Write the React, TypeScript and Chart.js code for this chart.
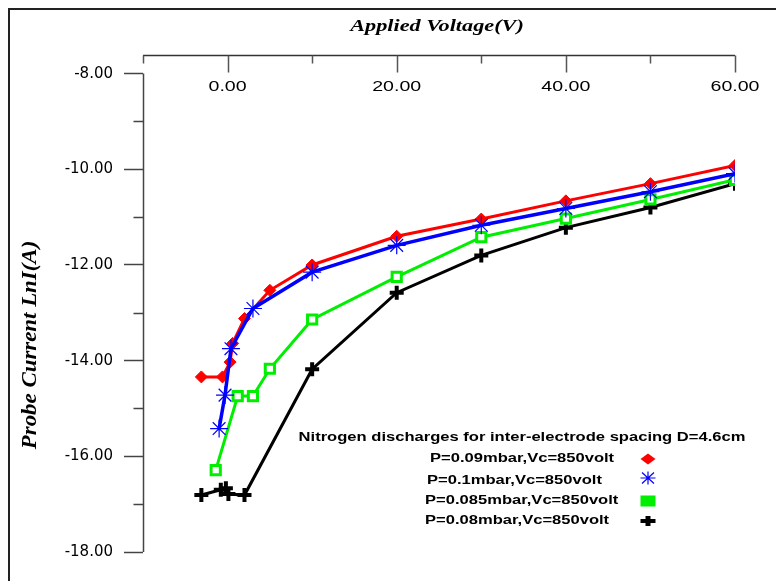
import React, { useEffect, useRef } from "react";
import { Chart, registerables } from "chart.js";

Chart.register(...registerables);

// ---- axes ----
const X_MIN = -10;
const X_MAX = 60;
const Y_MIN = -18;
const Y_FRAME_TOP = -7.611; // value level where the top x axis line sits
const xMajorTicks = [0, 20, 40, 60];
const xMinorTicks = [-10, 10, 30, 50];
const yMajorTicks = [-18, -16, -14, -12, -10, -8];
const yMinorTicks = [-17, -15, -13, -11, -9];

// ---- texts ----
const xTitle = "Applied Voltage(V)";
const yTitle = "Probe Current LnI(A)";
const legendTitle = "Nitrogen discharges for inter-electrode spacing D=4.6cm";
const seriesLabels = [
  "P=0.09mbar,Vc=850volt",
  "P=0.1mbar,Vc=850volt",
  "P=0.085mbar,Vc=850volt",
  "P=0.08mbar,Vc=850volt",
];

// ---- data ----
const redX = [-3.1, -0.6, 0.3, 0.6, 2.0, 5.0, 10, 20, 30, 40, 50, 60];
const redY = [-14.34, -14.34, -14.03, -13.64, -13.12, -12.53, -12.0, -11.4, -11.04, -10.66, -10.3, -9.92];

const blueX = [-1.0, -0.3, 0.4, 3.0, 10, 20, 30, 40, 50, 60];
const blueY = [-15.42, -14.72, -13.75, -12.91, -12.15, -11.59, -11.17, -10.82, -10.47, -10.09];

const greenX = [-1.4, 1.2, 3.0, 5.0, 10, 20, 30, 40, 50, 60];
const greenY = [-16.29, -14.74, -14.74, -14.17, -13.14, -12.25, -11.42, -11.03, -10.63, -10.22];

const blackX = [-3.1, -0.8, -0.2, 0.1, 2.0, 10, 20, 30, 40, 50, 60];
const blackY = [-16.81, -16.7, -16.67, -16.79, -16.81, -14.18, -12.58, -11.8, -11.22, -10.8, -10.3];

const RED = "#ff0000";
const BLUE = "#0000ff";
const GREEN = "#00ee00";
const BLACK = "#000000";

const zip = (xs: number[], ys: number[]) => xs.map((x, i) => ({ x, y: ys[i] }));

function stretchedText(
  ctx: CanvasRenderingContext2D,
  text: string,
  x: number,
  y: number,
  font: string,
  sx: number,
  align: CanvasTextAlign = "center",
  rotate = 0
) {
  ctx.save();
  ctx.font = font;
  ctx.fillStyle = "#000";
  ctx.textBaseline = "middle";
  ctx.textAlign = align;
  ctx.translate(x, y);
  if (rotate) ctx.rotate(rotate);
  ctx.scale(sx, 1);
  ctx.fillText(text, 0, 0);
  ctx.restore();
}

const decor = {
  id: "decor",
  afterDraw(chart: any) {
    const { ctx, chartArea } = chart;
    const xs = chart.scales.x;
    const ys = chart.scales.y;
    ctx.save();

    // outer frame
    ctx.strokeStyle = "#222";
    ctx.lineWidth = 2;
    ctx.beginPath();
    ctx.moveTo(9, 581);
    ctx.lineTo(9, 9);
    ctx.lineTo(776, 9);
    ctx.stroke();

    // top x axis
    const top = Math.round(chartArea.top) + 0.5;
    ctx.strokeStyle = "#333";
    ctx.lineWidth = 1.5;
    ctx.beginPath();
    ctx.moveTo(xs.getPixelForValue(X_MIN), top);
    ctx.lineTo(xs.getPixelForValue(X_MAX), top);
    ctx.stroke();
    ctx.strokeStyle = "#555";
    ctx.beginPath();
    xMajorTicks.forEach((v) => {
      const px = Math.round(xs.getPixelForValue(v)) + 0.5;
      ctx.moveTo(px, top);
      ctx.lineTo(px, top + 17);
    });
    xMinorTicks.forEach((v) => {
      const px = Math.round(xs.getPixelForValue(v)) + 0.5;
      ctx.moveTo(px, top);
      ctx.lineTo(px, top + 8);
    });
    ctx.stroke();
    xMajorTicks.forEach((v) => {
      stretchedText(ctx, v.toFixed(2), xs.getPixelForValue(v), top + 32, "14px 'Liberation Sans'", 1.4);
    });

    // left y axis line (from -8 down to -18)
    const lx = Math.round(chartArea.left) + 0.5;
    ctx.strokeStyle = "#444";
    ctx.lineWidth = 1.5;
    ctx.beginPath();
    ctx.moveTo(lx, ys.getPixelForValue(yMajorTicks[yMajorTicks.length - 1]));
    ctx.lineTo(lx, ys.getPixelForValue(yMajorTicks[0]));
    ctx.stroke();
    ctx.beginPath();
    yMinorTicks.forEach((v) => {
      const py = Math.round(ys.getPixelForValue(v)) + 0.5;
      ctx.moveTo(lx, py);
      ctx.lineTo(lx - 10, py);
    });
    ctx.stroke();

    // titles
    stretchedText(ctx, xTitle, 437, 27, "italic bold 16px 'Liberation Serif'", 1.39);
    stretchedText(ctx, yTitle, 30, 345, "italic bold 22px 'Liberation Serif'", 1.04, "center", -Math.PI / 2);

    // legend
    stretchedText(ctx, legendTitle, 522, 438, "bold 12px 'Liberation Sans'", 1.38);
    const rows = [459, 481, 501, 521];
    const tx = [430, 427, 425, 425];
    seriesLabels.forEach((t, i) => {
      stretchedText(ctx, t, tx[i], rows[i], "bold 12px 'Liberation Sans'", 1.38, "left");
    });
    const mx = 648;
    // red diamond
    ctx.fillStyle = RED;
    ctx.beginPath();
    ctx.moveTo(mx - 7.5, rows[0]);
    ctx.lineTo(mx, rows[0] - 5.5);
    ctx.lineTo(mx + 7.5, rows[0]);
    ctx.lineTo(mx, rows[0] + 5.5);
    ctx.closePath();
    ctx.fill();
    // blue asterisk
    ctx.strokeStyle = BLUE;
    ctx.lineWidth = 1.2;
    ctx.beginPath();
    const by = rows[1] - 3;
    ctx.moveTo(mx - 7.5, by);
    ctx.lineTo(mx + 7.5, by);
    ctx.moveTo(mx, by - 6.5);
    ctx.lineTo(mx, by + 6.5);
    ctx.moveTo(mx - 6, by - 5.5);
    ctx.lineTo(mx + 6, by + 5.5);
    ctx.moveTo(mx - 6, by + 5.5);
    ctx.lineTo(mx + 6, by - 5.5);
    ctx.stroke();
    // green square
    ctx.fillStyle = GREEN;
    ctx.fillRect(mx - 7.5, rows[2] - 5.5, 15, 11);
    // black plus
    ctx.fillStyle = BLACK;
    ctx.fillRect(mx - 7.5, rows[3] - 2, 15, 4);
    ctx.fillRect(mx - 2.5, rows[3] - 5, 5, 10);

    ctx.restore();
  },
};

export default function App() {
  const ref = useRef<HTMLCanvasElement | null>(null);
  useEffect(() => {
    if (!ref.current) return;
    const chart = new Chart(ref.current, {
      type: "line",
      data: {
        datasets: [
          {
            label: seriesLabels[1],
            data: zip(blueX, blueY),
            borderColor: BLUE,
            backgroundColor: BLUE,
            borderWidth: 3.5,
            pointStyle: "star",
            pointRadius: 9,
            pointBorderWidth: 1.2,
            pointBorderColor: BLUE,
          },
          {
            label: seriesLabels[0],
            data: zip(redX, redY),
            borderColor: RED,
            backgroundColor: RED,
            borderWidth: 3,
            pointStyle: "rectRot",
            pointRadius: 6,
            pointBorderWidth: 1,
          },
          {
            label: seriesLabels[2],
            data: zip(greenX, greenY),
            borderColor: GREEN,
            backgroundColor: "#ffffff",
            borderWidth: 3,
            pointStyle: "rect",
            pointRadius: 6.5,
            pointBorderWidth: 3,
            pointBorderColor: GREEN,
            pointBackgroundColor: "#ffffff",
          },
          {
            label: seriesLabels[3],
            data: zip(blackX, blackY),
            borderColor: BLACK,
            backgroundColor: BLACK,
            borderWidth: 3,
            pointStyle: "cross",
            pointRadius: 7,
            pointBorderWidth: 4,
          },
        ],
      },
      options: {
        animation: false,
        responsive: false,
        devicePixelRatio: 1,
        parsing: false as any,
        layout: { padding: { left: 0, top: 55, right: 41, bottom: 29 } },
        plugins: {
          legend: { display: false },
          tooltip: { enabled: false },
          title: { display: false },
        },
        elements: { line: { tension: 0 } },
        scales: {
          x: { type: "linear", min: X_MIN, max: X_MAX, display: false },
          y: {
            type: "linear",
            min: Y_MIN,
            max: Y_FRAME_TOP,
            position: "left",
            afterBuildTicks: (s: any) => {
              s.ticks = yMajorTicks.map((v) => ({ value: v }));
            },
            afterFit: (s: any) => {
              s.width = 143;
            },
            border: { display: false },
            grid: {
              drawOnChartArea: false,
              drawTicks: true,
              tickLength: 19,
              tickColor: "#444",
              tickWidth: 1.5,
            },
            ticks: {
              callback: (v: any) => Number(v).toFixed(2),
              font: { family: "DejaVu Sans", size: 15 },
              color: "#000",
              padding: 11,
            },
          },
        },
      },
      plugins: [decor],
    });
    return () => chart.destroy();
  }, []);
  return (
    <div style={{ position: "absolute", left: 0, top: 0, width: 776, height: 581, background: "#fff" }}>
      <canvas ref={ref} width={776} height={581} style={{ display: "block" }} />
    </div>
  );
}
